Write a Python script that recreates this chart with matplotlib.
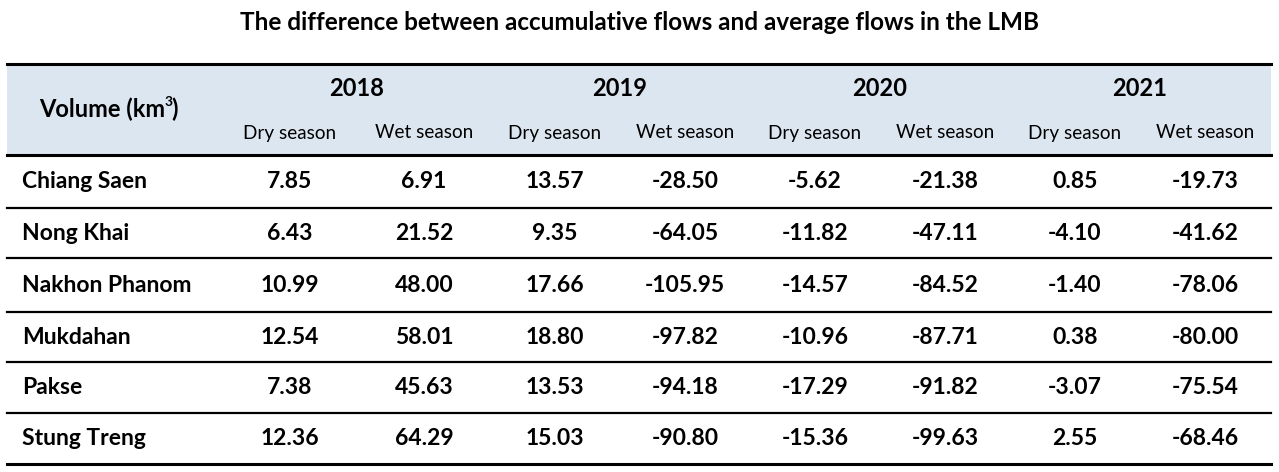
import matplotlib
matplotlib.use("Agg")
import matplotlib.pyplot as plt

title = "The difference between accumulative flows and average flows in the LMB"
years = ["2018", "2019", "2020", "2021"]
seasons = ["Dry season", "Wet season"]
stations = ["Chiang Saen", "Nong Khai", "Nakhon Phanom", "Mukdahan", "Pakse", "Stung Treng"]
values = [
    ["7.85", "6.91", "13.57", "-28.50", "-5.62", "-21.38", "0.85", "-19.73"],
    ["6.43", "21.52", "9.35", "-64.05", "-11.82", "-47.11", "-4.10", "-41.62"],
    ["10.99", "48.00", "17.66", "-105.95", "-14.57", "-84.52", "-1.40", "-78.06"],
    ["12.54", "58.01", "18.80", "-97.82", "-10.96", "-87.71", "0.38", "-80.00"],
    ["7.38", "45.63", "13.53", "-94.18", "-17.29", "-91.82", "-3.07", "-75.54"],
    ["12.36", "64.29", "15.03", "-90.80", "-15.36", "-99.63", "2.55", "-68.46"],
]

W, H = 1279, 472
fig = plt.figure(figsize=(W / 100, H / 100), dpi=100)
ax = fig.add_axes([0, 0, 1, 1])
ax.set_xlim(0, W)
ax.set_ylim(H, 0)
ax.axis("off")

FONT = ["Lato", "DejaVu Sans"]
left, right = 7, 1271
head_top, head_bot = 64, 155
row_lines = [155, 208, 258, 312, 362, 413, 464]
col_centers = [290, 424, 555, 685, 815, 945, 1075, 1205]

ax.add_patch(plt.Rectangle((left, head_top), right - left, head_bot - head_top,
                           facecolor="#dce6f1", edgecolor="none", zorder=0))
ax.plot([left, right], [head_top, head_top], color="black", lw=2.2)
for i, y in enumerate(row_lines):
    lw = 2.2 if i in (0, len(row_lines) - 1) else 1.6
    ax.plot([left, right], [y, y], color="black", lw=lw)

ax.text(640, 22, title, ha="center", va="center", fontsize=17.5,
        fontweight="bold", family=FONT)

# "Volume (km³)" assembled from pieces so the superscript sits right after "km"
renderer = fig.canvas.get_renderer()
t1 = ax.text(39, 109, "Volume (km", ha="left", va="center", fontsize=17,
             fontweight="bold", family=FONT)
bb = t1.get_window_extent(renderer)
t2 = ax.text(bb.x1 - 1, 102, "3", ha="left", va="center", fontsize=10,
             fontweight="bold", family=FONT)
bb2 = t2.get_window_extent(renderer)
ax.text(bb2.x1 - 0.5, 109, ")", ha="left", va="center", fontsize=17,
        fontweight="bold", family=FONT)

for i, yr in enumerate(years):
    xc = (col_centers[2 * i] + col_centers[2 * i + 1]) / 2
    ax.text(xc, 89, yr, ha="center", va="center", fontsize=17, fontweight="bold", family=FONT)
    for j, s in enumerate(seasons):
        ax.text(col_centers[2 * i + j], 133, s, ha="center", va="center", fontsize=13.6,
                family=FONT)

for r, st in enumerate(stations):
    yc = (row_lines[r] + row_lines[r + 1]) / 2
    ax.text(22, yc, st, ha="left", va="center", fontsize=16.5, fontweight="bold", family=FONT)
    for c, v in enumerate(values[r]):
        ax.text(col_centers[c], yc, v, ha="center", va="center", fontsize=16.5,
                fontweight="bold", family=FONT)

fig.savefig("out.png", dpi=100)
